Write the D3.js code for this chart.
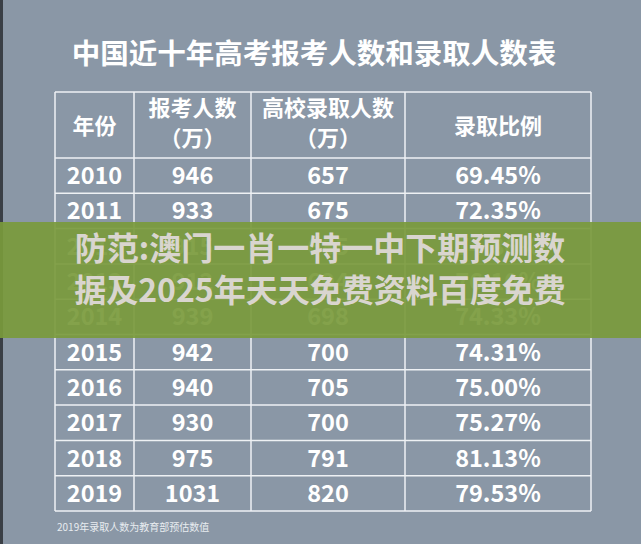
<!DOCTYPE html><html><head><meta charset="utf-8">
<script src="https://cdn.jsdelivr.net/npm/d3@7"></script>
<style>body{margin:0;background:#8a97a6}svg{display:block}</style></head><body>
<script>
const title="中国近十年高考报考人数和录取人数表";
const headers=[["年份"],["报考人数","（万）"],["高校录取人数","（万）"],["录取比例"]];
const years=["2010","2011","2012","2013","2014","2015","2016","2017","2018","2019"];
const applicants=["946","933","915","912","939","942","940","930","975","1031"];
const admitted=["657","675","685","694","698","700","705","700","791","820"];
const ratios=["69.45%","72.35%","74.86%","76.10%","74.33%","74.31%","75.00%","75.27%","81.13%","79.53%"];
const banner=["防范:澳门一肖一特一中下期预测数","据及2025年天天免费资料百度免费"];
const note="2019年录取人数为教育部预估数值";

const W=641,H=544;
const svg=d3.select("body").append("svg").attr("width",W).attr("height",H);
svg.append("rect").attr("width",W).attr("height",H).attr("fill","#8a97a6");
svg.append("rect").attr("width",3).attr("height",H).attr("fill","#3a3f46");
const F="'Noto Sans CJK SC','Noto Sans',sans-serif";
svg.append("text").attr("x",314).attr("y",64).attr("text-anchor","middle").attr("fill","#fff")
 .attr("font-family",F).attr("font-weight","bold").attr("font-size",28.5).text(title);

const colX=[55,134,251,405,591];
const y=d3.scaleBand().domain(years).range([158,511]);
const g=svg.append("g");
colX.forEach(x=>g.append("line").attr("x1",x).attr("x2",x).attr("y1",92).attr("y2",511).attr("stroke","#eef1f4").attr("stroke-width",1.5));
[92,...years.map(d=>y(d)),511].forEach(v=>g.append("line").attr("x1",55).attr("x2",591).attr("y1",v).attr("y2",v).attr("stroke","#eef1f4").attr("stroke-width",1.5));
headers.forEach((h,i)=>{
  const cx=(colX[i]+colX[i+1])/2;
  h.forEach((t,j)=>g.append("text").attr("x",cx).attr("y",h.length==1?134:116+j*30).attr("text-anchor","middle")
    .attr("fill","#fff").attr("font-family",F).attr("font-weight","bold").attr("font-size",22).text(t));
});
const cols=[years,applicants,admitted,ratios];
cols.forEach((arr,i)=>{
  const cx=(colX[i]+colX[i+1])/2;
  arr.forEach((t,k)=>g.append("text").attr("x",cx).attr("y",y(years[k])+y.bandwidth()/2+8.5).attr("text-anchor","middle")
    .attr("fill","#fff").attr("font-family",F).attr("font-weight","bold").attr("font-size",23.5).text(t));
});
svg.append("rect").attr("x",0).attr("y",222).attr("width",W).attr("height",116).attr("fill","#7a9a3c").attr("opacity",0.92);
banner.forEach((t,i)=>svg.append("text").attr("x",320).attr("y",260+i*42).attr("text-anchor","middle")
  .attr("fill","#d9d5cf").attr("font-family",F).attr("font-weight","bold").attr("font-size",32).text(t));
svg.append("text").attr("x",57).attr("y",531).attr("fill","#e8ecf0").attr("font-family",F).attr("font-size",10).text(note);
</script></body></html>
